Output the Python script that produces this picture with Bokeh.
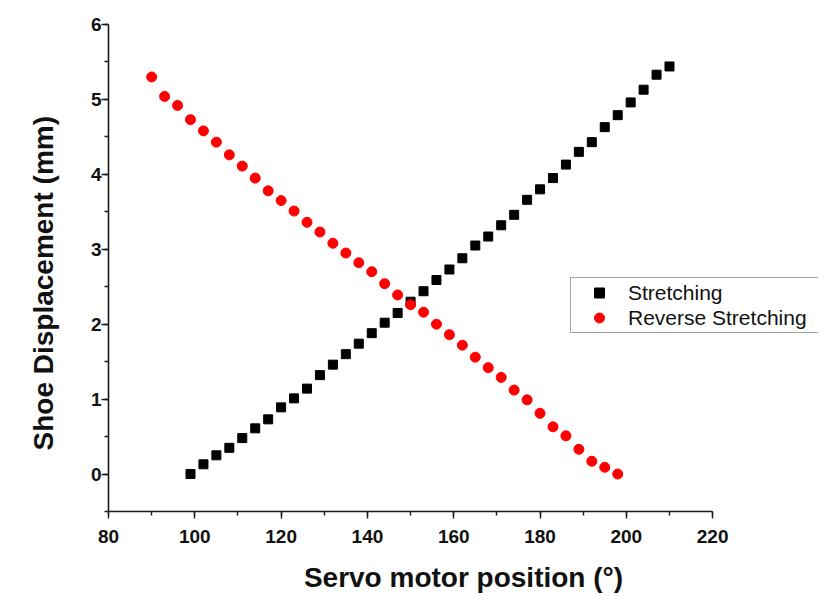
from bokeh.plotting import figure
from bokeh.models import Range1d, SingleIntervalTicker, Legend, LegendItem, ColumnDataSource, Title
from bokeh.embed import file_html
from bokeh.resources import INLINE

# Data
stretch_x = [99, 102, 105, 108, 111, 114, 117, 120, 123, 126,
             129, 132, 135, 138, 141, 144, 147, 150, 153, 156,
             159, 162, 165, 168, 171, 174, 177, 180, 183, 186,
             189, 192, 195, 198, 201, 204, 207, 210]
stretch_y = [0.00, 0.13, 0.25, 0.35, 0.48, 0.61, 0.73, 0.89, 1.01, 1.14,
             1.32, 1.46, 1.60, 1.74, 1.88, 2.02, 2.15, 2.30, 2.44, 2.59,
             2.73, 2.88, 3.05, 3.17, 3.32, 3.46, 3.66, 3.80, 3.95, 4.13,
             4.30, 4.43, 4.63, 4.79, 4.96, 5.13, 5.33, 5.44]

reverse_x = [90, 93, 96, 99, 102, 105, 108, 111, 114, 117,
             120, 123, 126, 129, 132, 135, 138, 141, 144, 147,
             150, 153, 156, 159, 162, 165, 168, 171, 174, 177,
             180, 183, 186, 189, 192, 195, 198]
reverse_y = [5.30, 5.04, 4.92, 4.73, 4.58, 4.43, 4.26, 4.11, 3.95, 3.78,
             3.65, 3.51, 3.36, 3.23, 3.08, 2.95, 2.82, 2.70, 2.54, 2.39,
             2.26, 2.16, 2.00, 1.86, 1.72, 1.56, 1.42, 1.29, 1.12, 0.99,
             0.81, 0.63, 0.51, 0.33, 0.17, 0.09, 0.00]

series_names = ["Stretching", "Reverse Stretching"]
x_label = "Servo motor position (°)"
y_label = "Shoe Displacement (mm)"
x_axis_min, x_axis_max = 80, 220
y_axis_min, y_axis_max = -0.5, 6

FONT = "Liberation Sans"
AXIS_COLOR = "#1a1a1a"

# frame: px 107..818 horizontally; x axis drawn only over 80..220
px_per_unit = (712 - 107) / (x_axis_max - x_axis_min)
x_view_max = x_axis_min + (818 - 107) / px_per_unit

p = figure(width=818, height=595, output_backend="svg", toolbar_location=None,
           x_range=Range1d(x_axis_min, x_view_max),
           y_range=Range1d(y_axis_min, y_axis_max),
           min_border_left=107, min_border_right=0, min_border_top=24,
           min_border_bottom=84)
p.outline_line_color = None
p.grid.visible = False
p.background_fill_color = "white"
p.border_fill_color = "white"

p.xaxis.ticker = SingleIntervalTicker(interval=20, num_minor_ticks=2)
p.yaxis.ticker = SingleIntervalTicker(interval=1, num_minor_ticks=2)
p.xaxis.bounds = (x_axis_min, x_axis_max)

for ax in (p.xaxis, p.yaxis):
    ax.axis_line_color = AXIS_COLOR
    ax.axis_line_width = 1.6
    ax.major_tick_line_color = AXIS_COLOR
    ax.minor_tick_line_color = AXIS_COLOR
    ax.major_tick_line_width = 1.4
    ax.minor_tick_line_width = 1.4
    ax.major_tick_in = 0
    ax.major_tick_out = 7
    ax.minor_tick_in = 0
    ax.minor_tick_out = 4
    ax.major_label_text_font = FONT
    ax.major_label_text_font_style = "bold"
    ax.major_label_text_font_size = "19px"
    ax.major_label_text_color = "#111111"
    ax.axis_label_text_font = FONT
    ax.axis_label_text_font_style = "bold"
    ax.axis_label_text_font_size = "28px"
    ax.axis_label_text_color = "#111111"

p.xaxis.axis_label = x_label
p.xaxis.major_label_standoff = 11
p.yaxis.major_label_standoff = 0
p.xaxis.axis_label_standoff = 16

# y-axis title as a side title so it can be placed like in the reference
ytitle = Title(text=y_label, align="left", offset=61, vertical_align="top",
               standoff=54, text_font=FONT, text_font_style="bold",
               text_font_size="28px", text_color="#111111")
p.add_layout(ytitle, "left")

src_s = ColumnDataSource(dict(x=stretch_x, y=stretch_y))
src_r = ColumnDataSource(dict(x=reverse_x, y=reverse_y))

r_s = p.scatter("x", "y", source=src_s, marker="square", size=9,
                fill_color="black", line_color="black")
r_r = p.scatter("x", "y", source=src_r, marker="circle", size=10,
                fill_color="#ff0000", line_color="#ff0000")

legend = Legend(items=[LegendItem(label=series_names[0], renderers=[r_s]),
                       LegendItem(label=series_names[1], renderers=[r_r])],
                location=(462, 178))
legend.padding = 2
legend.spacing = 0
legend.margin = 0
legend.glyph_width = 52
legend.glyph_height = 25
legend.label_height = 25
legend.label_standoff = 3
legend.label_width = 240
legend.label_text_font = FONT
legend.label_text_font_size = "21px"
legend.label_text_color = "#111111"
legend.border_line_color = "#444444"
legend.border_line_width = 1.4
legend.background_fill_color = "white"
legend.background_fill_alpha = 1.0
p.add_layout(legend, "center")

open("out.html", "w").write(file_html(p, INLINE))
